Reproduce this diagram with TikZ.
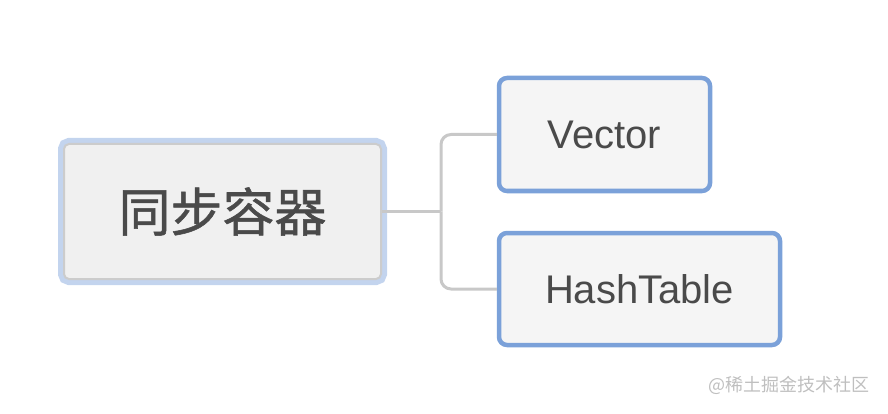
\documentclass[tikz,border=0pt]{standalone}
\usepackage{fontspec}
\setmainfont{Liberation Sans}
\newfontfamily\cjk[FakeBold=1]{Noto Sans CJK SC}
\newfontfamily\cjkmark{Noto Sans CJK SC}
\usepackage{xcolor}
\definecolor{rootblue}{HTML}{C3D4EE}
\definecolor{leafblue}{HTML}{7BA1D9}
\definecolor{rimgray}{HTML}{CCCCCC}
\definecolor{linkgray}{HTML}{C8C8C8}
\definecolor{inkgray}{HTML}{4A4A4A}
\tikzset{
  rootbox/.style={preaction={draw=rootblue, line width=12pt, rounded corners=9pt},
    draw=rimgray, line width=2pt, fill=black!6, rounded corners=5pt,
    minimum width=317pt, minimum height=135pt, inner sep=0pt,
    text=inkgray, font=\cjk\fontsize{52}{60}\selectfont},
  leafbox/.style={draw=leafblue, line width=4.5pt, fill=black!4, rounded corners=8pt,
    minimum height=113pt, inner sep=0pt,
    text=inkgray, font=\fontsize{40}{48}\selectfont},
  link/.style={draw=linkgray, line width=3pt, rounded corners=10pt}
}
\begin{document}
\begin{tikzpicture}[x=1pt, y=-1pt]
\useasboundingbox (0,0) rectangle (888,414);
\node[rootbox] (sync) at (222.5,211.5) {同步容器};
\node[leafbox, minimum width=211pt] (vec) at (604.5,134.5) {\raisebox{-2pt}{Vector}};
\node[leafbox, minimum width=281pt, minimum height=112pt] (hash) at (639.5,289) {\raisebox{-2pt}{HashTable}};
\coordinate (fork) at (441,211.5);
\draw[link] (sync.east) -- (fork);
\draw[link] (fork) |- (vec.west);
\draw[link] (fork) |- (hash.west);
\node[text=black!25, font=\cjkmark\fontsize{18}{20}\selectfont] (mark) at (789,385) {@稀土掘金技术社区};
\end{tikzpicture}
\end{document}
